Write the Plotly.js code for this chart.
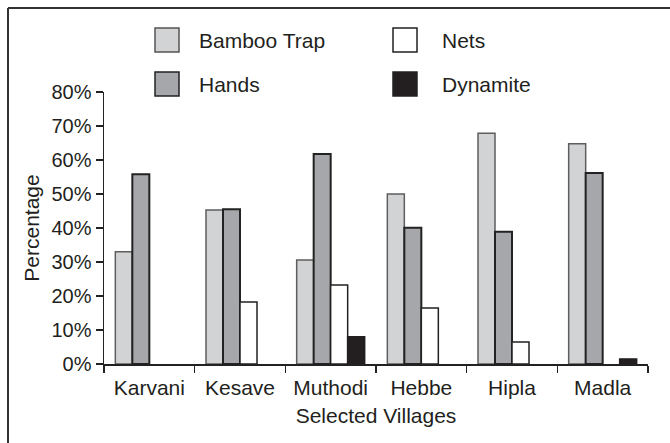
<!DOCTYPE html>
<html>
<head>
<meta charset="utf-8">
<script src="https://cdn.plot.ly/plotly-3.0.1.min.js"></script>
<style>
  html, body { margin: 0; padding: 0; background: #fff; }
  #chart { width: 670px; height: 443px; }
</style>
</head>
<body>
<div id="chart"></div>
<script>
// ---- Data ----
const villages = ["Karvani", "Kesave", "Muthodi", "Hebbe", "Hipla", "Madla"];
const seriesNames = ["Bamboo Trap", "Hands", "Nets", "Dynamite"];
const bambooTrap = [33, 45.3, 30.6, 50, 67.9, 64.8];
const hands = [55.8, 45.5, 61.8, 40.1, 38.9, 56.2];
const nets = [null, 18.2, 23.2, 16.5, 6.5, null];
const dynamite = [null, null, 8, null, null, 1.5];
const yTickSuffix = "%";
const xTitle = "Selected Villages";
const yTitle = "Percentage";

// ---- Styles ----
const fills = ["#d2d3d5", "#a6a7aa", "#ffffff", "#231f20"];
const lines = ["#5e5e5e", "#222222", "#222222", "#231f20"];
const lineWidths = [1.5, 2, 1.5, 1.5];
const FONT = "Liberation Sans, Arial, Helvetica, sans-serif";

const W = 670, H = 443;
const M = { l: 104, r: 22, t: 92, b: 79 };
const pw = W - M.l - M.r, ph = H - M.t - M.b;
const px = x => (x - M.l) / pw;
const py = y => (H - M.b - y) / ph;

const values = [bambooTrap, hands, nets, dynamite];
const traces = values.map((v, i) => ({
  type: "bar",
  name: seriesNames[i],
  x: villages,
  y: v,
  marker: { color: fills[i], line: { color: lines[i], width: lineWidths[i] } },
  hoverinfo: "x+y+name",
  showlegend: false
}));

// Manual legend (large square keys)
const legendPos = [
  { bx: 155, by: 28, tx: 197 },
  { bx: 155, by: 72, tx: 197 },
  { bx: 393, by: 28, tx: 440 },
  { bx: 393, by: 72, tx: 440 }
];
const box = 24;
const shapes = [];
const annotations = [];
legendPos.forEach((p, i) => {
  shapes.push({
    type: "rect", xref: "paper", yref: "paper",
    x0: px(p.bx), x1: px(p.bx + box), y0: py(p.by + box), y1: py(p.by),
    fillcolor: fills[i], line: { color: i === 0 ? "#555" : "#222", width: 1.5 }
  });
  annotations.push({
    xref: "paper", yref: "paper", x: px(p.tx), y: py(p.by + box / 2),
    xanchor: "left", yanchor: "middle", showarrow: false,
    text: seriesNames[i], font: { family: FONT, size: 21, color: "#231f20" }
  });
});
// Outer frame (top and left edges)
shapes.push({ type: "line", xref: "paper", yref: "paper", x0: px(8), x1: px(670), y0: py(8), y1: py(8), line: { color: "#333", width: 2 } });
shapes.push({ type: "line", xref: "paper", yref: "paper", x0: px(8), x1: px(8), y0: py(8), y1: py(443), line: { color: "#333", width: 2 } });

const layout = {
  width: W, height: H,
  margin: M,
  paper_bgcolor: "#fff", plot_bgcolor: "#fff",
  font: { family: FONT, size: 20, color: "#231f20" },
  barmode: "group", bargap: 0.25, bargroupgap: 0,
  showlegend: false,
  xaxis: {
    type: "category",
    showline: true, linecolor: "#222", linewidth: 1.5,
    ticks: "outside", tickson: "boundaries", ticklen: 7, tickcolor: "#222", tickwidth: 1.5,
    ticklabelstandoff: 4,
    showgrid: false, zeroline: false,
    tickfont: { family: FONT, size: 21 },
    title: { text: xTitle, font: { family: FONT, size: 21 }, standoff: 10 },
    automargin: false, fixedrange: true
  },
  yaxis: {
    range: [0, 80], dtick: 10, ticksuffix: yTickSuffix,
    showline: true, linecolor: "#222", linewidth: 1.5,
    ticks: "outside", ticklen: 7, tickcolor: "#222", tickwidth: 1.5,
    showgrid: false, zeroline: false,
    tickfont: { family: FONT, size: 20 },
    title: { text: yTitle, font: { family: FONT, size: 21 }, standoff: 6 },
    automargin: false, fixedrange: true
  },
  shapes: shapes,
  annotations: annotations
};

Plotly.newPlot("chart", traces, layout, { displayModeBar: false, staticPlot: true });
</script>
</body>
</html>
